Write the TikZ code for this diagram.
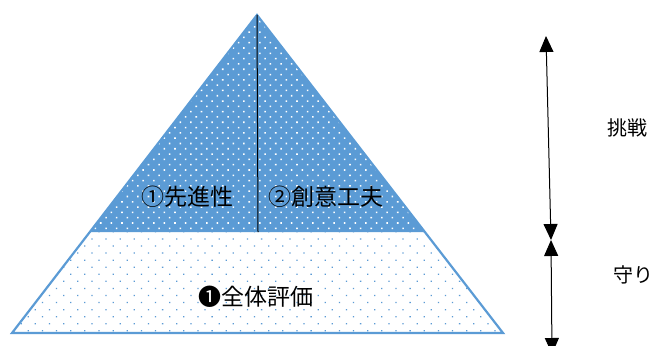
\documentclass[tikz,border=0pt]{standalone}
\usepackage{fontspec}
\newfontfamily\jp{Noto Sans CJK JP}
\usetikzlibrary{patterns.meta,arrows.meta}
\definecolor{pblue}{HTML}{5B9BD5}
\begin{document}
\begin{tikzpicture}[x=1pt,y=-1pt,
  outline/.style={draw=pblue,line width=2.2pt,line join=miter},
  toppat/.style={pattern={Dots[radius=1.1pt,distance=7.5pt,angle=45]},pattern color=white},
  botpat/.style={pattern={Dots[radius=0.9pt,distance=10pt,angle=45]},pattern color=pblue},
  lbl/.style={font=\jp\fontsize{23}{25}\selectfont,inner sep=0pt},
  sidelbl/.style={font=\jp\fontsize{20}{22}\selectfont,inner sep=0pt},
  dbl/.style={{Triangle[width=14pt,length=16pt]}-{Triangle[width=14pt,length=16pt]},line width=1pt}]
\useasboundingbox (0,0) rectangle (655,345);
\coordinate (apex) at (257,15);
\coordinate (bl) at (12,333);
\coordinate (br) at (503,333);
\coordinate (ml) at (89.8,232);
\coordinate (mr) at (424.9,232);
\coordinate (mid) at (258,232);
% bottom trapezoid
\fill[white] (ml) -- (mr) -- (br) -- (bl) -- cycle;
\fill[botpat] (ml) -- (mr) -- (br) -- (bl) -- cycle;
% top triangle
\fill[pblue] (apex) -- (mr) -- (ml) -- cycle;
\fill[toppat] (apex) -- (mr) -- (ml) -- cycle;
\draw[outline] (apex) -- (br) -- (bl) -- cycle;
\draw[black,line width=1pt] (apex) -- (mid);
% labels
\node[lbl] (n1) at (187,197) {①先進性};
\node[lbl] (n2) at (326,197) {②創意工夫};
\node[lbl] (n3) at (256,297) {❶全体評価};
% arrows
\coordinate (atop) at (546,36);
\coordinate (amid) at (551,240);
\coordinate (abot) at (552,354);
\draw[dbl] (atop) -- (amid);
\draw[dbl] (amid) -- (abot);
\node[sidelbl] (s1) at (627,128) {挑戦};
\node[sidelbl] (s2) at (633,275) {守り};
\end{tikzpicture}
\end{document}
